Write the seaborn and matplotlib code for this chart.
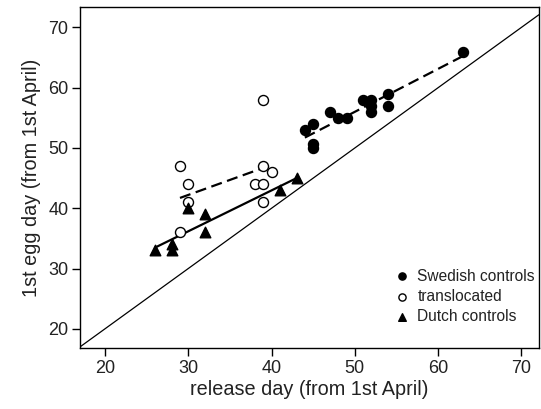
import numpy as np
import pandas as pd
import seaborn as sns
import matplotlib
matplotlib.use("Agg")
import matplotlib.pyplot as plt

# release day / 1st egg day
swe_release = [44, 45, 45, 45, 47, 48, 49, 51, 52, 52, 52, 54, 54, 63]
swe_egg = [53, 54, 50.7, 50, 56, 55, 55, 58, 58, 57, 56, 59, 57, 66]

trans_release = [29, 29, 30, 30, 38, 39, 39, 39, 39, 40]
trans_egg = [47, 36, 44, 41, 44, 44, 41, 47, 58, 46]

dutch_release = [26, 28, 28, 30, 32, 32, 41, 43]
dutch_egg = [33, 34, 33, 40, 39, 36, 43, 45]

groups = ["Swedish controls", "translocated", "Dutch controls"]

sns.set_theme(style="ticks")
plt.rcParams['font.family'] = ['Liberation Sans', 'DejaVu Sans']
txt = "#222222"

fig = plt.figure(figsize=(5.41, 4.09), dpi=100)
ax = fig.add_axes([0.148, 0.149, 0.848, 0.834])

ax.set_xlim(17.0, 72.1)
ax.set_ylim(16.8, 73.4)

# y = x reference line
ax.axline((20, 20), slope=1, color="black", lw=0.9, zorder=1)

swe = pd.DataFrame({"x": swe_release, "y": swe_egg})
trans = pd.DataFrame({"x": trans_release, "y": trans_egg})
dutch = pd.DataFrame({"x": dutch_release, "y": dutch_egg})

# fitted lines
sns.regplot(data=swe, x="x", y="y", ax=ax, scatter=False, ci=None, truncate=True,
            line_kws={"color": "black", "lw": 1.6, "dashes": (5, 2.5)})
sns.regplot(data=trans, x="x", y="y", ax=ax, scatter=False, ci=None, truncate=True,
            line_kws={"color": "black", "lw": 1.6, "dashes": (5, 2.5)})
sns.regplot(data=dutch, x="x", y="y", ax=ax, scatter=False, ci=None, truncate=True,
            line_kws={"color": "black", "lw": 1.6})

# points
h1 = ax.scatter(swe["x"], swe["y"], marker="o", s=52, c="black", edgecolors="black",
                zorder=3, label=groups[0])
h2 = ax.scatter(trans["x"], trans["y"], marker="o", s=52, facecolors="white",
                edgecolors="black", linewidths=1.0, zorder=3, label=groups[1])
h3 = ax.scatter(dutch["x"], dutch["y"], marker="^", s=58, c="black", edgecolors="black",
                zorder=3, label=groups[2])

leg = ax.legend(handles=[h1, h2, h3], loc="lower right", frameon=False,
                bbox_to_anchor=(1.022, 0.03), fontsize=11.2, handletextpad=0.0,
                labelspacing=0.33, markerscale=0.72)
for t in leg.get_texts():
    t.set_color(txt)

ax.set_xticks([20, 30, 40, 50, 60, 70])
ax.set_yticks([20, 30, 40, 50, 60, 70])
ax.tick_params(direction="out", length=6, width=1, colors="black",
               labelcolor=txt, labelsize=13, pad=2.5)
for s in ax.spines.values():
    s.set_visible(True)
    s.set_color("black")
    s.set_linewidth(1.0)

ax.set_xlabel("release day (from 1st April)", fontsize=14.3, color=txt, labelpad=2)
ax.set_ylabel("1st egg day (from 1st April)", fontsize=14.3, color=txt, labelpad=5)

fig.savefig("out.png", dpi=100)
